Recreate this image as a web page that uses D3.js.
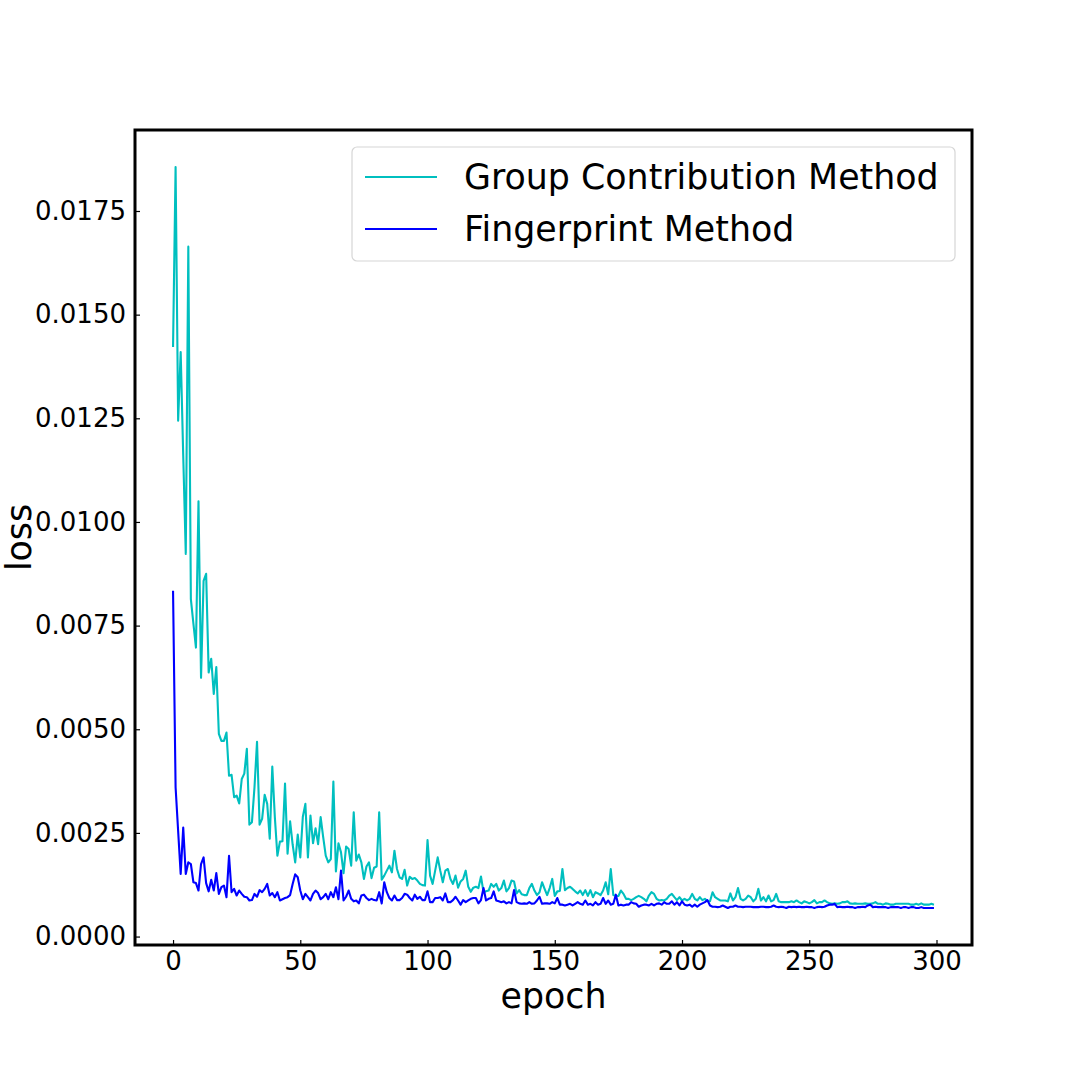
<!DOCTYPE html>
<meta charset="utf-8">
<script src="https://cdn.jsdelivr.net/npm/d3@7"></script>
<style>
body { margin: 0; background: #fff; }
.line { fill: none; stroke-width: 2.1px; stroke-linejoin: round; }
.tick text { font-family: "DejaVu Sans", sans-serif; font-size: 26px; fill: #000; }
.tick line { stroke: #000; stroke-width: 1.2px; }
.domain { display: none; }
.label { font-family: "DejaVu Sans", sans-serif; font-size: 34.8px; fill: #000; }
</style>
<body>
<script>

// loss per epoch
var gcLoss = [
  0.01422, 0.01856, 0.01244, 0.0141, 0.0116, 0.00923, 0.01664, 0.00814, 0.00755, 0.00697,
  0.0105, 0.00624, 0.00858, 0.00875, 0.00637, 0.0067, 0.00585, 0.0065, 0.00489, 0.00472,
  0.00472, 0.00492, 0.00388, 0.0039, 0.00336, 0.0034, 0.00321, 0.0038, 0.00393, 0.00453,
  0.0027, 0.00276, 0.0036, 0.0047, 0.0027, 0.00284, 0.00342, 0.0032, 0.00236, 0.0041,
  0.00288, 0.00195, 0.00229, 0.0023, 0.00369, 0.002, 0.00278, 0.00222, 0.00179, 0.00246,
  0.00191, 0.00289, 0.0032, 0.00191, 0.00292, 0.00225, 0.00261, 0.00223, 0.00288, 0.0024,
  0.00195, 0.00179, 0.00187, 0.00374, 0.00157, 0.00225, 0.00203, 0.00153, 0.00217, 0.00211,
  0.00171, 0.003, 0.00183, 0.00198, 0.00179, 0.00139, 0.00169, 0.00179, 0.00141, 0.00166,
  0.00169, 0.003, 0.00137, 0.00147, 0.00159, 0.00171, 0.00155, 0.00207, 0.00163, 0.00143,
  0.00139, 0.00161, 0.00123, 0.00144, 0.00139, 0.00141, 0.00135, 0.00127, 0.00124, 0.00123,
  0.00233, 0.00147, 0.00127, 0.00159, 0.00191, 0.00159, 0.00131, 0.00159, 0.00163, 0.00139,
  0.00127, 0.00147, 0.00118, 0.00133, 0.00139, 0.00159, 0.0012, 0.00108, 0.00118, 0.0012,
  0.00117, 0.00145, 0.00107, 0.00109, 0.00111, 0.00127, 0.0012, 0.00127, 0.00111, 0.00117,
  0.00135, 0.00109, 0.00117, 0.00135, 0.00133, 0.00104, 0.00112, 0.00102, 0.001, 0.001,
  0.00117, 0.00127, 0.00111, 0.001, 0.00107, 0.00131, 0.00115, 0.001, 0.00117, 0.00139,
  0.00098, 0.00109, 0.0011, 0.00163, 0.00112, 0.00117, 0.0012, 0.00115, 0.00109, 0.00104,
  0.00111, 0.001, 0.00112, 0.00098, 0.00112, 0.00095, 0.00107, 0.00104, 0.001, 0.00111,
  0.00131, 0.00102, 0.00163, 0.001, 0.00098, 0.00098, 0.00111, 0.00103, 0.00091, 0.00091,
  0.00088, 0.00091, 0.00095, 0.00098, 0.00095, 0.00091, 0.00085, 0.00099, 0.00107, 0.00103,
  0.00091, 0.00087, 0.00088, 0.00087, 0.00091, 0.00099, 0.00103, 0.00095, 0.00088, 0.00095,
  0.00087, 0.00091, 0.00087, 0.00091, 0.00103, 0.00091, 0.00087, 0.00095, 0.00088, 0.00091,
  0.00085, 0.00085, 0.00107, 0.00095, 0.00091, 0.00087, 0.00087, 0.00087, 0.00085, 0.00104,
  0.00087, 0.00095, 0.00117, 0.00091, 0.00087, 0.00091, 0.00099, 0.00095, 0.00085, 0.00091,
  0.00115, 0.00087, 0.00095, 0.00085, 0.00099, 0.00085, 0.00088, 0.00103, 0.00085, 0.00083,
  0.00083, 0.00083, 0.00083, 0.00085, 0.00083, 0.00087, 0.00083, 0.0008, 0.00085, 0.00083,
  0.0008, 0.00083, 0.00088, 0.0008, 0.00083, 0.00083, 0.00087, 0.00083, 0.0008, 0.00079,
  0.0008, 0.00079, 0.0008, 0.00083, 0.00083, 0.00085, 0.0008, 0.00079, 0.0008, 0.00079,
  0.00079, 0.00079, 0.0008, 0.00079, 0.00079, 0.0008, 0.00083, 0.00079, 0.00079, 0.00077,
  0.0008, 0.00079, 0.00077, 0.00077, 0.00079, 0.00079, 0.00079, 0.00079, 0.00079, 0.00079,
  0.00077, 0.00077, 0.00079, 0.00077, 0.0008, 0.00077, 0.00077, 0.00077, 0.00079, 0.00077
];

var fpLoss = [
  0.00834, 0.0036, 0.00255, 0.00151, 0.00263, 0.00151, 0.00179, 0.00175, 0.00131, 0.00129,
  0.00111, 0.00175, 0.00191, 0.00129, 0.00109, 0.00137, 0.00111, 0.00153, 0.00103, 0.00119,
  0.00123, 0.00095, 0.00195, 0.00107, 0.00115, 0.00099, 0.00111, 0.00103, 0.00096, 0.00095,
  0.00087, 0.00088, 0.00103, 0.00096, 0.00112, 0.00107, 0.00115, 0.00127, 0.00099, 0.00105,
  0.00095, 0.00107, 0.00087, 0.0009, 0.00093, 0.00095, 0.001, 0.00127, 0.0015, 0.00143,
  0.00111, 0.0009, 0.00103, 0.00095, 0.00087, 0.00103, 0.00111, 0.00105, 0.0009, 0.00095,
  0.00103, 0.0009, 0.00107, 0.00095, 0.00119, 0.0009, 0.00159, 0.00087, 0.00096, 0.00111,
  0.00091, 0.00085, 0.00087, 0.0008, 0.00099, 0.00101, 0.00093, 0.00088, 0.00091, 0.00088,
  0.00087, 0.00107, 0.0008, 0.00131, 0.00107, 0.00093, 0.00087, 0.00099, 0.00088, 0.00088,
  0.00093, 0.00103, 0.00101, 0.00093, 0.00087, 0.00101, 0.00091, 0.00096, 0.00088, 0.00088,
  0.00109, 0.00083, 0.00083, 0.00093, 0.00093, 0.00095, 0.00087, 0.00104, 0.00083, 0.00083,
  0.00088, 0.00096, 0.00087, 0.00077, 0.00088, 0.00083, 0.00087, 0.00091, 0.00093, 0.00093,
  0.0008, 0.00088, 0.00117, 0.00087, 0.00091, 0.00093, 0.00109, 0.00087, 0.00085, 0.00083,
  0.00085, 0.0008, 0.00083, 0.0008, 0.00112, 0.00083, 0.0008, 0.00079, 0.0008, 0.00079,
  0.00083, 0.00079, 0.0008, 0.00087, 0.00096, 0.00079, 0.0008, 0.0008, 0.00079, 0.00083,
  0.0008, 0.00093, 0.00077, 0.00077, 0.00075, 0.00077, 0.00079, 0.00075, 0.00079, 0.00083,
  0.00079, 0.00077, 0.00087, 0.00077, 0.00079, 0.00075, 0.00083, 0.00077, 0.00079, 0.00093,
  0.00079, 0.00087, 0.00077, 0.00079, 0.00101, 0.00075, 0.00077, 0.00075, 0.00077, 0.00077,
  0.00083, 0.0008, 0.00079, 0.00072, 0.00075, 0.00077, 0.00077, 0.00075, 0.00079, 0.00075,
  0.00079, 0.0008, 0.00077, 0.00083, 0.00079, 0.00079, 0.00085, 0.00077, 0.00083, 0.00075,
  0.00085, 0.00077, 0.00075, 0.00077, 0.00072, 0.00077, 0.00072, 0.00077, 0.0008, 0.00083,
  0.00088, 0.00075, 0.00072, 0.00072, 0.00071, 0.00072, 0.00075, 0.00072, 0.00069, 0.00072,
  0.00072, 0.00075, 0.00072, 0.00072, 0.00071, 0.00072, 0.00072, 0.00072, 0.00071, 0.00071,
  0.00071, 0.00072, 0.00072, 0.00071, 0.00071, 0.00072, 0.00075, 0.00072, 0.00071, 0.00072,
  0.00071, 0.00069, 0.00072, 0.00071, 0.00072, 0.00071, 0.00072, 0.00071, 0.00071, 0.00072,
  0.00071, 0.00071, 0.00069, 0.00071, 0.00072, 0.00071, 0.00072, 0.00075, 0.00077, 0.00077,
  0.00079, 0.00071, 0.00072, 0.00071, 0.00071, 0.00072, 0.00071, 0.00071, 0.00069, 0.00071,
  0.00071, 0.00072, 0.00071, 0.00075, 0.00077, 0.00071, 0.00072, 0.00071, 0.00071, 0.00071,
  0.00071, 0.00069, 0.00071, 0.00071, 0.00071, 0.00071, 0.00069, 0.00071, 0.00071, 0.00069,
  0.00071, 0.00071, 0.00069, 0.00069, 0.00071, 0.00069, 0.00069, 0.00069, 0.00069, 0.00069
];

var seriesNames = ["Group Contribution Method", "Fingerprint Method"];
var seriesColors = ["#00bfbf", "#0000ff"];
var xTicks = [0, 50, 100, 150, 200, 250, 300];
var yTicks = [0, 0.0025, 0.005, 0.0075, 0.01, 0.0125, 0.015, 0.0175];

// set the dimensions and margins of the graph
var margin = {top: 130, right: 108, bottom: 135, left: 135},
    width = 1080 - margin.left - margin.right,
    height = 1080 - margin.top - margin.bottom;

var epochs = d3.range(gcLoss.length);
var allLoss = gcLoss.concat(fpLoss);

// matplotlib style 5% margins
var xMax = epochs.length - 1;
var yMin = d3.min(allLoss), yMax = d3.max(allLoss);
var yPad = 0.05 * (yMax - yMin);

var x = d3.scaleLinear().domain([-0.05 * xMax, xMax * 1.05]).range([0, width]);
var y = d3.scaleLinear().domain([yMin - yPad, yMax + yPad]).range([height, 0]);

var line = d3.line()
    .x(function(d, i) { return x(i); })
    .y(function(d) { return y(d); });

var svg = d3.select("body").append("svg")
    .attr("width", 1080)
    .attr("height", 1080)
  .append("g")
    .attr("transform", "translate(" + margin.left + "," + margin.top + ")");

// the two loss curves
[gcLoss, fpLoss].forEach(function(s, k) {
  svg.append("path")
      .datum(s)
      .attr("class", "line")
      .style("stroke", seriesColors[k])
      .attr("d", line);
});

// axes, ticks pointing inwards
svg.append("g")
    .attr("transform", "translate(0," + height + ")")
    .call(d3.axisBottom(x).tickValues(xTicks).tickSizeInner(-5).tickSizeOuter(0).tickPadding(7));

svg.append("g")
    .call(d3.axisLeft(y).tickValues(yTicks).tickFormat(d3.format(".4f")).tickSizeInner(-5).tickSizeOuter(0).tickPadding(9));

// frame
svg.append("rect")
    .attr("width", width)
    .attr("height", height)
    .style("fill", "none")
    .style("stroke", "#000")
    .style("stroke-width", 3);

// axis labels
svg.append("text")
    .attr("class", "label")
    .attr("x", width / 2)
    .attr("y", height + 63)
    .attr("text-anchor", "middle")
    .text("epoch");

svg.append("text")
    .attr("class", "label")
    .attr("transform", "translate(" + (-104) + "," + (height / 2) + ") rotate(-90)")
    .attr("text-anchor", "middle")
    .text("loss");

// legend
var legend = svg.append("g")
    .attr("transform", "translate(" + (width - 620) + ",17)");

legend.append("rect")
    .attr("width", 603)
    .attr("height", 114)
    .attr("rx", 5)
    .style("fill", "#fff")
    .style("stroke", "#d6d6d6")
    .style("stroke-width", 1.2);

seriesNames.forEach(function(name, k) {
  var ly = 30 + k * 52;
  legend.append("line")
      .attr("x1", 13).attr("x2", 85)
      .attr("y1", ly).attr("y2", ly)
      .style("stroke", seriesColors[k])
      .style("stroke-width", 2.1);
  legend.append("text")
      .attr("class", "label")
      .attr("x", 112)
      .attr("y", ly + 12)
      .text(name);
});

</script>
</body>
